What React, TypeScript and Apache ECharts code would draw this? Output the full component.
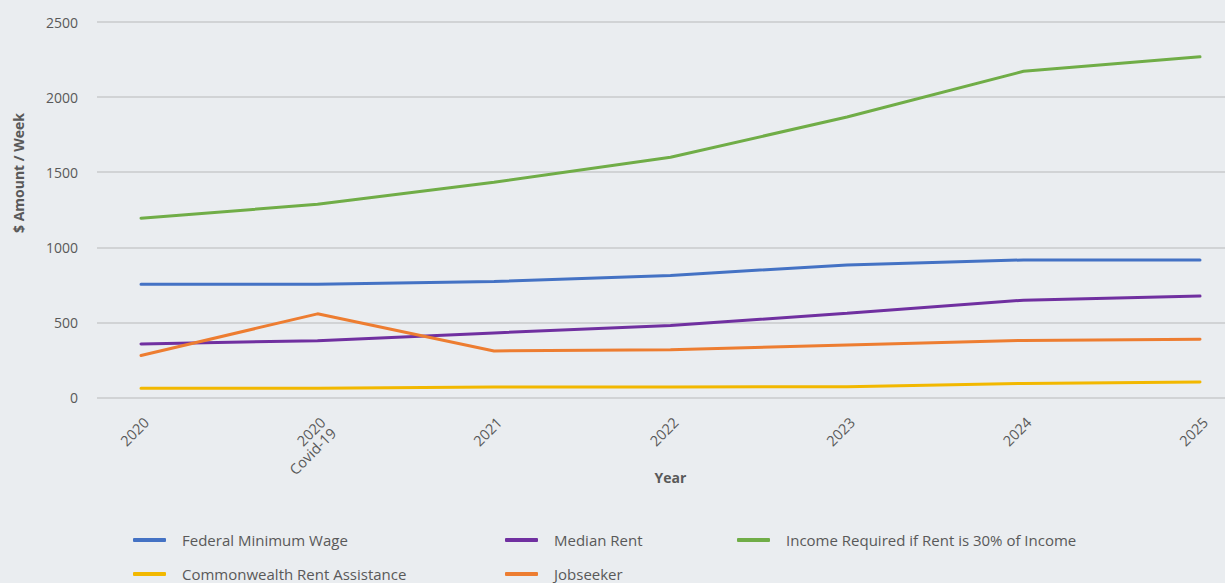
import React, { useEffect, useRef } from "react";
import * as echarts from "echarts";

const categories = ["2020", "2020\nCovid-19", "2021", "2022", "2023", "2024", "2025"];
const federalMinimumWage = [753.8, 753.8, 772.6, 812.6, 882.8, 915.9, 915.9];
const medianRent = [357, 378, 430, 479, 561, 648, 675];
const incomeRequired = [1194, 1286, 1433, 1599, 1868, 2172, 2268];
const rentAssistance = [62, 62, 70, 70, 72, 94, 103];
const jobseeker = [280, 557, 310, 318, 350, 380, 388];
const yTicks = [0, 500, 1000, 1500, 2000, 2500];

const FONT = "'Open Sans', sans-serif";
const GREY = "#595959";

export default function App() {
  const ref = useRef<HTMLDivElement>(null);
  useEffect(() => {
    if (!ref.current) return;
    const chart = echarts.init(ref.current, null, { renderer: "svg" });
    const yMin = yTicks[0];
    const yMax = yTicks[yTicks.length - 1];
    const yInterval = yTicks[1] - yTicks[0];
    const top = 22;
    const bottom = 185.5;
    const mk = (name: string, data: number[], color: string) => ({
      name,
      type: "line",
      xAxisIndex: 1,
      yAxisIndex: 1,
      data,
      symbol: "none",
      lineStyle: { color, width: 3, cap: "round" },
      itemStyle: { color },
    });
    const legendItem = (name: string, left: number, top: number) => ({
      orient: "horizontal",
      icon: "roundRect",
      itemWidth: 33,
      itemHeight: 4,
      padding: 0,
      left,
      top,
      data: [name],
      textStyle: { color: GREY, fontSize: 15, fontFamily: FONT, lineHeight: 20, padding: [0, 0, 0, 11] },
    });
    chart.setOption({
      animation: false,
      backgroundColor: "#eaedf0",
      textStyle: { fontFamily: FONT },
      grid: [
        { left: 97, right: 0, top, bottom },
        { left: 141, right: 25, top, bottom },
      ],
      xAxis: [
        { type: "category", gridIndex: 0, data: categories, show: false },
        {
          type: "category",
          gridIndex: 1,
          data: categories,
          boundaryGap: false,
          axisLine: { show: false },
          axisTick: { show: false },
          axisLabel: {
            rotate: 45,
            margin: 17,
            verticalAlign: "top",
            color: GREY,
            fontSize: 14.5,
            fontFamily: FONT,
            lineHeight: 15,
            interval: 0,
          },
          name: "Year",
          nameLocation: "middle",
          nameGap: 73,
          nameMoveOverlap: false,
          nameTextStyle: { color: GREY, fontSize: 14, fontWeight: "bold", fontFamily: FONT },
        },
      ],
      yAxis: [
        {
          type: "value",
          gridIndex: 0,
          min: yMin,
          max: yMax,
          interval: yInterval,
          axisLine: { show: false },
          axisTick: { show: false },
          splitLine: { lineStyle: { color: "#c9cacd", width: 1.5 } },
          axisLabel: {
            color: GREY,
            fontSize: 14,
            fontFamily: FONT,
            margin: 19,
            padding: [0, 0, 9, 0],
            formatter: (v: number) => String(v),
          },
        },
        {
          type: "value",
          gridIndex: 1,
          min: yMin,
          max: yMax,
          interval: yInterval,
          show: false,
          splitLine: { show: false },
        },
      ],
      legend: [
        legendItem("Federal Minimum Wage", 133, 530),
        legendItem("Median Rent", 505, 530),
        legendItem("Income Required if Rent is 30% of Income", 737, 530),
        legendItem("Commonwealth Rent Assistance", 133, 564),
        legendItem("Jobseeker", 505, 564),
      ],
      graphic: [
        {
          type: "text",
          x: 18,
          y: 173,
          rotation: Math.PI / 2,
          style: {
            text: "$ Amount / Week",
            fill: GREY,
            font: `bold 14px ${FONT}`,
            align: "center",
            verticalAlign: "middle",
          },
        },
      ],
      series: [
        mk("Federal Minimum Wage", federalMinimumWage, "#4472c4"),
        mk("Median Rent", medianRent, "#7030a0"),
        mk("Income Required if Rent is 30% of Income", incomeRequired, "#70ad47"),
        mk("Commonwealth Rent Assistance", rentAssistance, "#f2b800"),
        mk("Jobseeker", jobseeker, "#ed7d31"),
      ],
    });
    return () => chart.dispose();
  }, []);
  return (
    <div
      ref={ref}
      style={{ position: "fixed", left: 0, top: 0, width: 1225, height: 583 }}
    />
  );
}
